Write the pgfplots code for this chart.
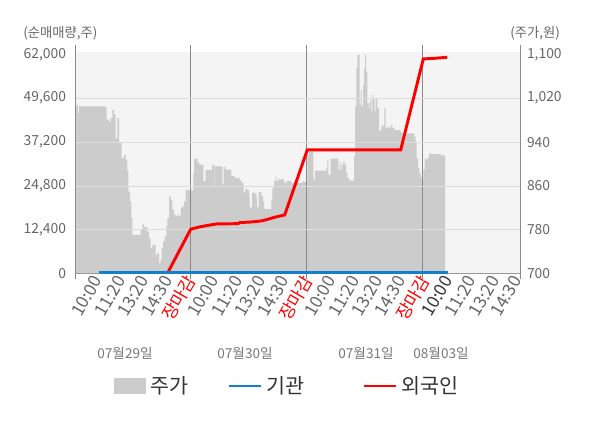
\documentclass[border=0pt]{standalone}
\usepackage{pgfplots}
\pgfplotsset{compat=1.18}
\usepackage{pgfplotstable}
\usepackage{fontspec}
\setmainfont{Noto Sans CJK KR}
\definecolor{bgc}{HTML}{F4F4F4}
\definecolor{areac}{HTML}{CCCCCC}
\definecolor{gridc}{HTML}{DDDDDD}
\definecolor{dayc}{HTML}{8A8A8A}
\definecolor{axc}{HTML}{999999}
\definecolor{raxc}{HTML}{BBBBBB}
\definecolor{txtc}{HTML}{666666}
\definecolor{datec}{HTML}{777777}
\definecolor{blu}{HTML}{1480CC}
\definecolor{legtxt}{HTML}{333333}
\pgfplotsset{
  myareleg/.style={legend image code/.code={\fill[areac] (0pt,-5.6pt) rectangle (23.25pt,5.6pt);}},
  mylineleg/.style={legend image code/.code={\draw[##1] (0pt,0pt) -- (24pt,0pt);}},
}

% stock price (right axis), x in chart units (0..444)
\pgfplotstableread{
x p
0 1005
0.7 1008
2 993
3 1005
28 1005
29.7 1003
30.7 981
33 977
34.7 984
36.3 999
38 990
39.7 947
41.3 984
43 938
45.7 911
48 917
49.7 908
51.3 887
52.3 850
54 832
55.3 802
56.3 771
63 771
64.7 780
66.3 790
68 785
71.3 777
73 765
74.7 747
76.3 753
79.7 735
81.3 738
83 720
84.7 726
85.7 747
87 759
88.7 768
90.3 787
91.3 802
93 841
94.7 835
96.3 817
98 808
99.7 805
101.3 808
103 805
104.7 820
106.3 823
108 832
109.7 853
112 852
117.3 884
118 910
121.3 904
123 899
127.3 869
129.7 889
136 898
138 857
138.7 896
146.3 863
147.7 895
149.3 890
155.3 878
158.7 875
163.7 871
165.3 866
167.7 848
169.3 855
171.3 852
173 845
173.7 821
176 848
178.7 846
180.3 839
181 821
182.7 849
185.3 842
187 831
188 819
189.3 818
193 816
193.7 818
195.3 835
196.3 857
198 869
199.3 877
200.3 869
202 872
207 873
208 866
210.3 869
214.7 867
216 865
218 869
222 866
227 869
228 867
231.3 917
233 922
237.3 875
238 871
239 888
250.7 893
251.3 908
252.3 881
254.7 910
262.3 890
263.7 905
264.7 890
265.7 899
267.3 905
268.7 899
270 884
271.3 875
273 870
278 914
279 1005
280.3 1075
281.3 1099
283.7 1008
284.7 1035
285.7 1005
287 1044
288 1075
289 1099
290 1068
291.3 1011
293 1002
294 1017
295.3 996
296.3 1026
297.3 1020
298.7 996
299.7 1020
301.3 1002
303 961
304.7 963
305.7 971
307 968
308.3 1002
309.7 965
311.3 968
313 966
314.7 971
316.3 966
318 962
324.7 958
326.3 953
328 950
329.7 956
338 950
339.7 941
340.7 911
342 893
343.3 884
344.7 877
345.7 871
347.3 890
348.7 911
349.7 908
351.3 912
353 920
354.7 918
364.7 916
369 916
}\pricetab

% foreign investors, cumulative net buying (left axis)
\pgfplotstableread{
x v
91.7 300
114.7 12600
122 13160
130.3 13610
140.3 14095
162 14180
163.7 14460
175.3 14660
185.3 14940
192 15420
198.7 15990
208.7 16640
231.3 35000
324.7 35000
347.3 60700
359.7 60900
371.3 61180
}\foreigntab

% institutions (left axis)
\pgfplotstableread{
x v
23 300
371.7 300
}\insttab

\begin{document}
\begin{tikzpicture}
\useasboundingbox (0,0) rectangle (450pt,321pt);
\begin{axis}[
  at={(57pt,115.6pt)}, anchor=south west,
  width=333pt, height=171.7pt, scale only axis,
  xmin=0, xmax=444, ymin=700, ymax=1117.13,
  axis x line=none, axis y line*=right,
  axis line style={draw=raxc, line width=0.75pt},
  ytick={700,780,860,940,1020,1100},
  major tick length=0pt,
  yticklabel style={font=\fontsize{10.4}{12}\selectfont, text=txtc, xshift=1.75pt},
  /pgf/number format/assume math mode=true,
  scaled y ticks=false,
]
\fill[bgc] (axis cs:0,700) rectangle (axis cs:444,1104.9);
\addplot[const plot, fill=areac, draw=none] table[x=x,y=p]{\pricetab} \closedcycle;
\end{axis}
\begin{axis}[
  at={(57pt,115.6pt)}, anchor=south west,
  width=333pt, height=171.7pt, scale only axis,
  xmin=0, xmax=444, ymin=0, ymax=64655,
  axis x line*=bottom, axis y line*=left,
  axis line style={draw=axc, line width=0.75pt},
  xtick={24.9,48.3,71.6,95.0,118.4,141.7,165.1,188.5,211.8,235.2,258.6,282.0,305.3,328.7,352.1,375.4,398.8,422.2,444},
  xticklabels={10:00,11:20,13:20,14:30,\textcolor{red}{장마감},10:00,11:20,13:20,14:30,\textcolor{red}{장마감},10:00,11:20,13:20,14:30,\textcolor{red}{장마감},\textcolor{legtxt}{10:00},11:20,13:20,14:30},
  xticklabel style={rotate=60, anchor=east, font=\fontsize{13}{14}\selectfont, text=txtc, yshift=1pt},
  ytick={0,12400,24800,37200,49600,62000},
  yticklabel style={font=\fontsize{10.4}{12}\selectfont, text=txtc, xshift=-4pt},
  major tick length=0pt,
  /pgf/number format/assume math mode=true,
  scaled y ticks=false,
  extra x ticks={0,114.5,230.7,346.3,444},
  extra x tick labels={},
  extra x tick style={grid=major, major grid style={draw=dayc, line width=0.75pt}, major tick length=3.75pt, tick align=outside, tick style={draw=dayc, line width=0.75pt}},
  extra y ticks={12400,24800,37200,49600},
  extra y tick labels={},
  extra y tick style={grid=major, major grid style={draw=gridc, line width=0.75pt}},
  legend columns=3,
  legend cell align=left,
  legend style={at={(0.0856,-0.4898)}, anchor=west, draw=none, fill=none, inner sep=0pt,
    font=\fontsize{15.5}{17}\selectfont, text=legtxt,
    /tikz/column 1/.style={column sep=1.2pt},
    /tikz/column 3/.style={column sep=1.2pt},
    /tikz/column 5/.style={column sep=1.2pt},
    /tikz/column 2/.style={column sep=27.7pt},
    /tikz/column 4/.style={column sep=41.2pt}},
]
\addplot[red, line width=2.2pt, forget plot] table[x=x,y=v]{\foreigntab};
\addplot[blu, line width=2pt, forget plot] table[x=x,y=v]{\insttab};
\addlegendimage{myareleg}
\addlegendentry{주가}
\addlegendimage{mylineleg, blu, line width=2pt}
\addlegendentry{기관}
\addlegendimage{mylineleg, red, line width=2.2pt}
\addlegendentry{외국인}
\end{axis}
\node[anchor=west, text=txtc, font=\fontsize{10}{12}\selectfont, inner sep=0pt] at (17.25pt,296.25pt) {(순매매량,주)};
\node[anchor=west, text=txtc, font=\fontsize{10}{12}\selectfont, inner sep=0pt] at (382.5pt,296.25pt) {(주가,원)};
\foreach \xx/\dd in {93.75/07월29일,183.75/07월30일,274.5/07월31일,330.75/08월03일}
  \node[text=datec, font=\fontsize{10.2}{12}\selectfont, inner sep=0pt] at (\xx pt,56.25pt) {\dd};
\end{tikzpicture}
\end{document}
